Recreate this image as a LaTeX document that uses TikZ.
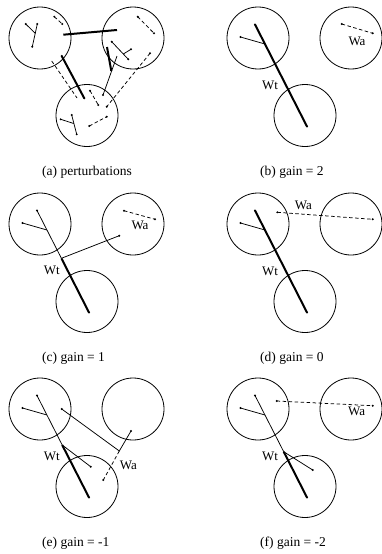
\documentclass[tikz,border=0pt]{standalone}
\usepackage{fontspec}
\setmainfont{Liberation Serif}
\begin{document}
\begin{tikzpicture}[x=1pt,y=-1pt,
  ball/.style={draw, circle, minimum size=62pt, inner sep=0pt, line width=0.8pt},
  wthin/.style={line width=0.75pt},
  wthick/.style={line width=2pt},
  wdash/.style={line width=0.75pt, dash pattern=on 3.5pt off 2.5pt},
  lbl/.style={font=\fontsize{13}{15}\selectfont, inner sep=0pt},
  captext/.style={font=\fontsize{13.5}{16}\selectfont, anchor=base west, inner sep=0pt}]
\useasboundingbox (0,0) rectangle (381,554);
\newcommand\myballs[1]{%
  \node[ball] (L#1) at (40,38) {};
  \node[ball] (R#1) at (133,38) {};
  \node[ball] (B#1) at (87,115.5) {};
  \coordinate (T) at (37,24.5);
  \coordinate (E) at (89,126.5);
  \coordinate (S) at (22.5,37);
  \coordinate (J) at (46.9,44);}
\newcommand\tipdots[1]{\foreach \p in {#1} \fill \p circle (1.1pt);}
% ---------- (a)
\begin{scope}
  \node[ball] (La) at (40,38) {};
  \node[ball] (Ra) at (133,38) {};
  \node[ball] (Ba) at (87,115.5) {};
  \draw[wthin] (37.3,24) -- (32.3,46.7);
  \draw[wthin] (25.7,24) -- (35.3,33.3);
  \draw[wdash] (54.3,16.7) -- (62.3,24);
  \draw[wthick] (63.3,34.7) -- (117,30);
  \draw[wthick] (61.7,56) -- (84.3,98.3);
  \draw[wdash] (51.7,61) -- (77,98);
  \draw[wdash] (137.7,16.7) -- (154,33.3);
  \draw[wthin] (111.7,41.7) -- (128.3,59.3);
  \draw[wthin] (131,49.3) -- (123.3,54);
  \draw[wthick] (107,47) -- (111.3,71);
  \draw[wthin] (117,56) -- (103,95);
  \draw[wdash] (150,53.3) -- (106.7,106.7);
  \draw[wdash] (90,90.7) -- (98.3,105);
  \draw[wthin] (71.7,115) -- (76.7,134.3);
  \draw[wthin] (60.7,119.3) -- (73.7,123.5);
  \draw[wdash] (89.3,126) -- (106.7,116.7);
  \tipdots{(25.7,24),(37.3,24),(32.3,46.7),(54.3,16.7),(62.3,24),(137.7,16.7),(154,33.3),(111.7,41.7),(128.3,59.3),(131,49.3),(90,90.7),(98.3,105),(60.7,119.3),(71.7,115),(76.7,134.3),(89.3,126),(106.7,116.7),(150,53.3),(84.3,98.3),(61.7,56),(103,95),(106.7,106.7)}
\end{scope}
% ---------- (b)
\begin{scope}[shift={(218,0)}]
  \myballs{b}
  \draw[wthick] (T) -- (E);
  \draw[wthin] (S) -- (J);
  \draw[wdash] (123.7,24) -- (154.7,33.3);
  \node[lbl] (wab) at (139,41) {Wa};
  \node[lbl] (wtb) at (52,85) {Wt};
  \tipdots{(T),(E),(S),(123.7,24),(154.7,33.3)}
\end{scope}
% ---------- (c)
\begin{scope}[shift={(0,186)}]
  \myballs{c}
  \coordinate (K) at (61.4,72.3);
  \draw[wthin] (T) -- (K);
  \draw[wthick] (K) -- (E);
  \draw[wthin] (K) -- (119.3,49.7);
  \draw[wthin] (S) -- (J);
  \draw[wdash] (124,24.7) -- (155,33.3);
  \node[lbl] (wac) at (140,39.5) {Wa};
  \node[lbl] (wtc) at (51.7,84.5) {Wt};
  \tipdots{(T),(E),(S),(119.3,49.7),(124,24.7),(155,33.3)}
\end{scope}
% ---------- (d)
\begin{scope}[shift={(218,186)}]
  \myballs{d}
  \draw[wthick] (T) -- (E);
  \draw[wthin] (S) -- (J);
  \draw[wdash] (59.3,26.3) -- (154.7,33.3);
  \node[lbl] (wad) at (85.3,19) {Wa};
  \node[lbl] (wtd) at (52,85.7) {Wt};
  \tipdots{(T),(E),(S),(59.3,26.3),(154.7,33.3)}
\end{scope}
% ---------- (e)
\begin{scope}[shift={(0,371)}]
  \myballs{e}
  \coordinate (K) at (62.2,74);
  \coordinate (C) at (119.3,80);
  \draw[wthin] (T) -- (K);
  \draw[wthick] (K) -- (E);
  \draw[wthin] (K) -- (90.7,95.7);
  \draw[wthin] (S) -- (J);
  \draw[wthin] (61.7,38) -- (C) -- (131,60);
  \draw[wdash] (C) -- (103.3,109);
  \node[lbl] (wae) at (128.3,94) {Wa};
  \node[lbl] (wte) at (51.7,85.7) {Wt};
  \tipdots{(T),(E),(S),(90.7,95.7),(61.7,38),(131,60),(103.3,109)}
\end{scope}
% ---------- (f)
\begin{scope}[shift={(218,371)}]
  \myballs{f}
  \coordinate (K) at (65.7,80.7);
  \draw[wthin] (T) -- (K);
  \draw[wthick] (K) -- (E);
  \draw[wthin] (K) -- (94.7,99);
  \draw[wthin] (S) -- (J);
  \draw[wdash] (58.7,30) -- (154.7,34.7);
  \node[lbl] (waf) at (138.7,40) {Wa};
  \node[lbl] (wtf) at (52,85.7) {Wt};
  \tipdots{(T),(E),(S),(94.7,99),(58.7,30),(154.7,34.7)}
\end{scope}
% ---------- captions
\node[captext] (capa) at (42,175) {(a) perturbations};
\node[captext] (capb) at (260,175) {(b) gain = 2};
\node[captext] (capc) at (42,361) {(c) gain = 1};
\node[captext] (capd) at (260,361) {(d) gain = 0};
\node[captext] (cape) at (42,546) {(e) gain = -1};
\node[captext] (capf) at (260,546) {(f) gain = -2};
\end{tikzpicture}
\end{document}
